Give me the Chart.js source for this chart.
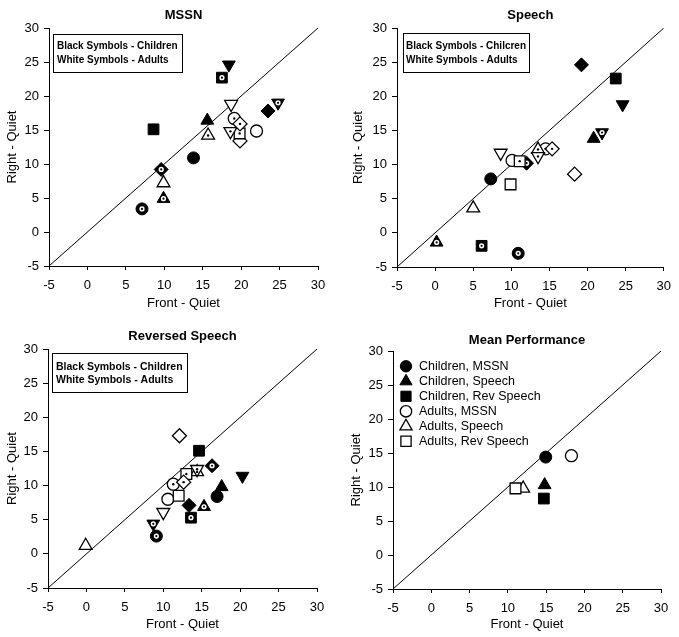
<!DOCTYPE html>
<html><head><meta charset="utf-8">
<script src="https://cdn.jsdelivr.net/npm/chart.js@4.4.0/dist/chart.umd.min.js"></script>
<style>
html,body{margin:0;padding:0;background:#fff;}
#wrap{position:relative;width:679px;height:637px;overflow:hidden;background:#fff;}
canvas{position:absolute;}
</style></head><body>
<div id="wrap">
<canvas id="c1" width="340" height="318" style="left:0;top:0"></canvas>
<canvas id="c2" width="339" height="318" style="left:340px;top:0"></canvas>
<canvas id="c3" width="340" height="319" style="left:0;top:318px"></canvas>
<canvas id="c4" width="339" height="319" style="left:340px;top:318px"></canvas>
</div>
<script>
// ---------------- DATA ----------------
const axisMin = -5, axisMax = 30, axisStep = 5;          // tick labels -5 ... 30
const identityLine = [-5, 30];                            // y = x reference line
const shapeOrder = ['circle', 'triangle', 'square', 'invTriangle', 'diamond'];

// MSSN  (children = black, adults = white; "Dot" = symbol with centre dot)
const mssnChildX    = [13.8, 15.6, 8.6, 18.4, 23.5];
const mssnChildY    = [10.9, 16.4, 15.1, 24.6, 17.8];
const mssnChildDotX = [7.1, 9.9, 17.5, 24.8, 9.6];
const mssnChildDotY = [3.4, 4.9, 22.7, 19.0, 9.2];
const mssnAdultX    = [22.0, 9.9, null, 18.7, 19.85];
const mssnAdultY    = [14.85, 7.2, null, 18.8, 13.4];
const mssnAdultDotX = [19.1, 15.7, 19.8, 18.6, 19.85];
const mssnAdultDotY = [16.7, 14.2, 14.5, 14.8, 15.9];

// Speech
const speechChildX    = [7.3, 20.8, 23.7, 24.6, 19.2];
const speechChildY    = [7.9, 13.8, 22.6, 18.8, 24.6];
const speechChildDotX = [10.9, 0.2, 6.1, 21.9, 12.0];
const speechChildDotY = [-3.0, -1.4, -1.9, 14.7, 10.2];
const speechAdultX    = [10.1, 5.0, 9.9, 8.6, 18.3];
const speechAdultY    = [10.6, 3.6, 7.1, 11.7, 8.6];
const speechAdultDotX = [14.5, 13.5, 11.1, 13.5, 15.35];
const speechAdultDotY = [12.3, 12.2, 10.5, 11.2, 12.3];

// Reversed Speech
const revChildX    = [17.0, 17.6, 14.65, 20.3, 13.35];
const revChildY    = [8.4, 9.8, 15.1, 11.4, 7.1];
const revChildDotX = [9.1, 15.3, 13.6, 8.7, 16.35];
const revChildDotY = [2.6, 6.9, 5.3, 4.4, 12.9];
const revAdultX    = [10.6, -0.1, 12.0, 10.0, 12.1];
const revAdultY    = [8.0, 1.2, 8.5, 6.1, 17.3];
const revAdultDotX = [11.3, 14.4, 13.0, 14.4, 12.65];
const revAdultDotY = [10.2, 12.0, 11.7, 12.4, 10.5];

// Mean Performance
const meanLabels = ['Children, MSSN', 'Children, Speech', 'Children, Rev Speech', 'Adults, MSSN', 'Adults, Speech', 'Adults, Rev Speech'];
const meanShapes = ['circle', 'triangle', 'square', 'circle', 'triangle', 'square'];
const meanGroups = ['child', 'child', 'child', 'adult', 'adult', 'adult'];
const meanX = [14.95, 14.8, 14.7, 18.3, 12.0, 11.0];
const meanY = [14.4, 10.3, 8.3, 14.6, 9.8, 9.8];

const noteLines1 = ['Black Symbols - Children', 'White Symbols - Adults'];
const noteLines2 = ['Black Symbols - Chilcren', 'White Symbols - Adults'];

// ---------------- RENDERING ----------------
const FONT = "'Liberation Sans', Arial, Helvetica, sans-serif";
Chart.defaults.font.family = FONT;
Chart.defaults.color = '#000';

function styleFor(shape) {
  switch (shape) {
    case 'circle': return {ps: 'circle', r: 6, rot: 0};
    case 'triangle': return {ps: 'triangle', r: 7.4, rot: 0};
    case 'square': return {ps: 'rect', r: 7.6, rot: 0};
    case 'invTriangle': return {ps: 'triangle', r: 7.4, rot: 180};
    case 'diamond': return {ps: 'rectRot', r: 7, rot: 0};
  }
  return {ps: 'circle', r: 5, rot: 0};
}

function markerSet(label, xs, ys, group, dotted, order, shapes) {
  const sh = shapes || shapeOrder;
  const data = xs.map((x, i) => x == null ? null : {x: x, y: ys[i], shape: sh[i]}).filter(Boolean);
  const fill = group === 'child' ? '#000' : '#fff';
  return {
    label: label, data: data, group: group, dotted: dotted, order: order,
    showLine: false,
    pointStyle: c => c.raw ? styleFor(c.raw.shape).ps : 'circle',
    pointRadius: c => c.raw ? styleFor(c.raw.shape).r : 5,
    pointHoverRadius: c => c.raw ? styleFor(c.raw.shape).r : 5,
    pointRotation: c => c.raw ? styleFor(c.raw.shape).rot : 0,
    pointBackgroundColor: fill,
    pointBorderColor: '#000',
    pointBorderWidth: group === 'child' ? 1 : 1.3,
    backgroundColor: fill, borderColor: '#000'
  };
}

function lineSet() {
  return {
    label: '', data: identityLine.map(v => ({x: v, y: v})), showLine: true,
    borderColor: '#000', borderWidth: 1, pointRadius: 0, pointHoverRadius: 0,
    fill: false, tension: 0, order: 100, isRef: true
  };
}

const centerDots = {
  id: 'centerDots',
  afterDatasetDraw(chart, args) {
    const ds = chart.data.datasets[args.index];
    if (!ds.dotted) return;
    const ctx = chart.ctx;
    ctx.save();
    args.meta.data.forEach(pt => {
      if (pt.skip) return;
      const x = pt.x, y = pt.y;
      if (ds.group === 'child') {
        ctx.fillStyle = '#fff'; ctx.beginPath(); ctx.arc(x, y, 2.6, 0, Math.PI * 2); ctx.fill();
        ctx.fillStyle = '#000'; ctx.beginPath(); ctx.arc(x, y, 1.1, 0, Math.PI * 2); ctx.fill();
      } else {
        ctx.fillStyle = '#000'; ctx.beginPath(); ctx.arc(x, y, 1.2, 0, Math.PI * 2); ctx.fill();
      }
    });
    ctx.restore();
  }
};

const noteBox = {
  id: 'noteBox',
  afterDraw(chart, args, opts) {
    if (!opts || !opts.lines) return;
    const ctx = chart.ctx, a = chart.chartArea;
    ctx.save();
    ctx.font = 'bold ' + opts.size + 'px ' + FONT;
    const tw = Math.max.apply(null, opts.lines.map(l => ctx.measureText(l).width));
    const w = Math.round(tw + 2 * opts.padX);
    const x0 = Math.round(a.left + opts.dx), y0 = Math.round(a.top + opts.dy);
    ctx.fillStyle = '#fff'; ctx.fillRect(x0, y0, w, opts.h);
    ctx.strokeStyle = '#000'; ctx.lineWidth = 1;
    ctx.strokeRect(x0 + 0.5, y0 + 0.5, w, opts.h);
    ctx.fillStyle = '#000'; ctx.textBaseline = 'middle'; ctx.textAlign = 'left';
    opts.lines.forEach((l, i) => ctx.fillText(l, x0 + opts.padX, y0 + opts.firstRow + i * opts.rowGap));
    ctx.restore();
  }
};

const meanLegend = {
  id: 'meanLegend',
  afterDraw(chart, args, opts) {
    if (!opts || !opts.show) return;
    const ctx = chart.ctx, a = chart.chartArea;
    ctx.save();
    let k = 0;
    chart.data.datasets.forEach(ds => {
      if (ds.isRef) return;
      const y = a.top + opts.dy + k * opts.gap;
      const mx = a.left + opts.mx;
      const st = styleFor(ds.data[0].shape);
      ctx.fillStyle = ds.group === 'child' ? '#000' : '#fff';
      ctx.strokeStyle = '#000';
      ctx.lineWidth = ds.group === 'child' ? 1 : 1.3;
      Chart.helpers.drawPoint(ctx, {pointStyle: st.ps, radius: st.r * 0.95, rotation: 0, borderWidth: ctx.lineWidth}, mx, y);
      ctx.fillStyle = '#000';
      ctx.font = opts.size + 'px ' + FONT;
      ctx.textBaseline = 'middle'; ctx.textAlign = 'left';
      ctx.fillText(ds.label, a.left + opts.tx, y);
      k++;
    });
    ctx.restore();
  }
};

function makeChart(id, title, datasets, L, pluginsOpts) {
  const tickFont = {size: 13, family: FONT};
  return new Chart(document.getElementById(id), {
    type: 'scatter',
    data: {datasets: datasets},
    plugins: [centerDots, noteBox, meanLegend],
    options: {
      responsive: false, animation: false, events: [],
      layout: {padding: {left: 0, top: 0, right: L.right, bottom: 0}},
      plugins: Object.assign({
        legend: {display: false},
        tooltip: {enabled: false},
        title: {display: true, text: title, color: '#000', fullSize: false,
          font: {size: 13, weight: 'bold', family: FONT, lineHeight: 1.2},
          padding: {top: L.titleTop, bottom: L.titleBottom}}
      }, pluginsOpts),
      scales: {
        x: {
          type: 'linear', min: axisMin, max: axisMax,
          ticks: {stepSize: axisStep, color: '#000', font: tickFont, padding: 8, maxRotation: 0, autoSkip: false},
          grid: {drawOnChartArea: false, drawTicks: true, tickLength: 4, color: '#000', lineWidth: 1},
          border: {display: true, color: '#000', width: 1},
          title: {display: true, text: 'Front - Quiet', color: '#000', font: {size: 13, family: FONT, lineHeight: 1.2}, padding: {top: 0, bottom: L.xTitlePad}},
          afterFit(s) { s.height = L.bottom; }
        },
        y: {
          type: 'linear', min: axisMin, max: axisMax,
          ticks: {stepSize: axisStep, color: '#000', font: tickFont, padding: 5, autoSkip: false},
          grid: {drawOnChartArea: false, drawTicks: true, tickLength: 5, color: '#000', lineWidth: 1},
          border: {display: true, color: '#000', width: 1},
          title: {display: true, text: 'Right - Quiet', color: '#000', font: {size: 13, family: FONT, lineHeight: 1.2}, padding: {top: L.yTitlePad, bottom: 0}},
          afterFit(s) { s.width = L.left; }
        }
      }
    }
  });
}

function panelSets(cx, cy, cdx, cdy, ax, ay, adx, ady) {
  return [
    markerSet('children', cx, cy, 'child', false, 4),
    markerSet('children dot', cdx, cdy, 'child', true, 3),
    markerSet('adults', ax, ay, 'adult', false, 2),
    markerSet('adults dot', adx, ady, 'adult', true, 1),
    lineSet()
  ];
}

makeChart('c1', 'MSSN',
  panelSets(mssnChildX, mssnChildY, mssnChildDotX, mssnChildDotY, mssnAdultX, mssnAdultY, mssnAdultDotX, mssnAdultDotY),
  {left: 49, right: 22, bottom: 52, titleTop: 7.2, titleBottom: 5.2, xTitlePad: 6.5, yTitlePad: 4.2},
  {noteBox: {lines: noteLines1, size: 10, padX: 4, dx: 4, dy: 6, h: 38, firstRow: 12.5, rowGap: 13.3}});

makeChart('c2', 'Speech',
  panelSets(speechChildX, speechChildY, speechChildDotX, speechChildDotY, speechAdultX, speechAdultY, speechAdultDotX, speechAdultDotY),
  {left: 57, right: 13, bottom: 51, titleTop: 7.2, titleBottom: 5.2, xTitlePad: 6.5, yTitlePad: 10.5},
  {noteBox: {lines: noteLines2, size: 10, padX: 3, dx: 6, dy: 5, h: 39, firstRow: 13.5, rowGap: 13.3}});

makeChart('c3', 'Reversed Speech',
  panelSets(revChildX, revChildY, revChildDotX, revChildDotY, revAdultX, revAdultY, revAdultDotX, revAdultDotY),
  {left: 48, right: 23, bottom: 49, titleTop: 10.2, titleBottom: 5.2, xTitlePad: 5.2, yTitlePad: 4.9},
  {noteBox: {lines: noteLines1, size: 10.5, padX: 4, dx: 4, dy: 4, h: 39, firstRow: 14, rowGap: 13.3}});

const meanSets = meanLabels.map((lab, i) =>
  markerSet(lab, [meanX[i]], [meanY[i]], meanGroups[i], false, 6 - i, [meanShapes[i]]));
meanSets.push(lineSet());
makeChart('c4', 'Mean Performance', meanSets,
  {left: 53, right: 18, bottom: 48, titleTop: 14.2, titleBottom: 3.2, xTitlePad: 5.2, yTitlePad: 8.9},
  {meanLegend: {show: true, mx: 13, tx: 26, dy: 15.3, gap: 15, size: 12.5}});
</script>
</body></html>
